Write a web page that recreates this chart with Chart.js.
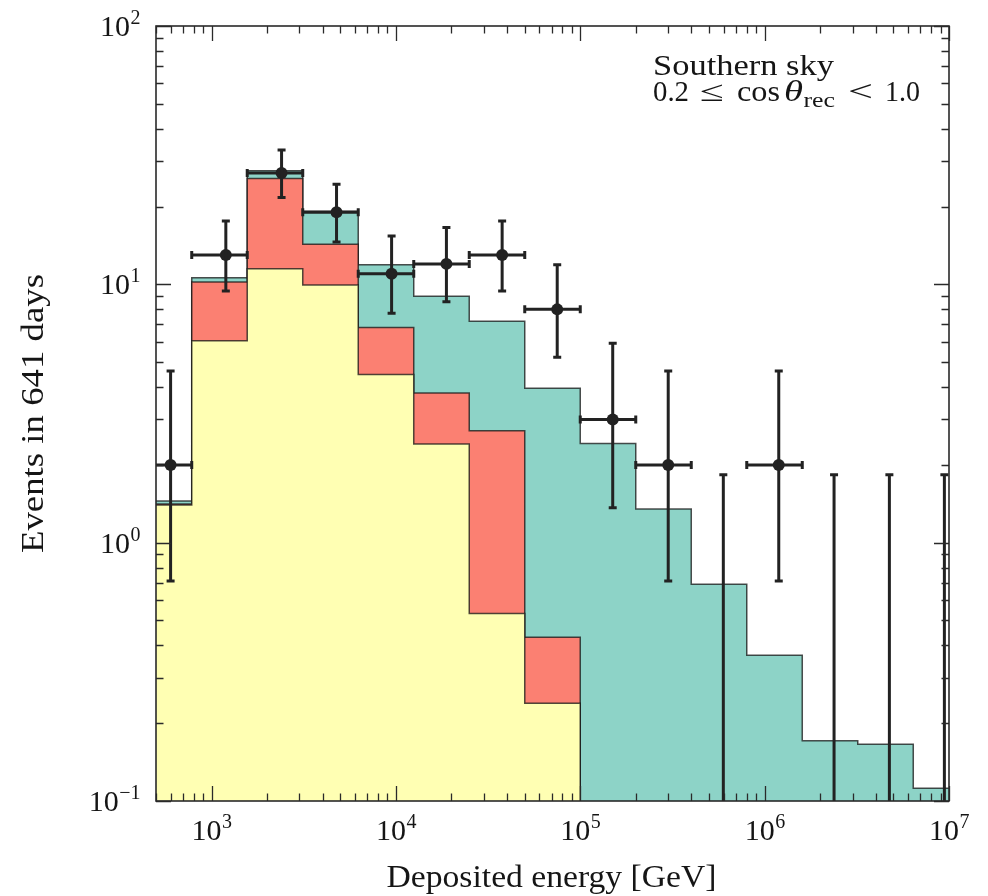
<!DOCTYPE html>
<html>
<head>
<meta charset="utf-8">
<script src="https://cdn.jsdelivr.net/npm/chart.js@4.4.1/dist/chart.umd.min.js"></script>
<style>
  html, body { margin: 0; padding: 0; background: #fff; }
  #wrap { width: 988px; height: 896px; }
</style>
</head>
<body>
<div id="wrap"><canvas id="grafico" width="988" height="896"></canvas></div>
<script>
// Energy bins in GeV (each bin is a factor 2 wide)
const binEdges = [390.625, 781.25, 1562.5, 3125, 6250, 12500, 25000, 50000,
  100000, 200000, 400000, 800000, 1600000, 3200000, 6400000, 12800000];

// Stacked histogram: top of each layer per bin
const yellowTop = [1.40, 6.05, 11.5, 9.94, 4.48, 2.41, 0.532, 0.239];
const redTop = [1.41, 10.2, 25.7, 14.3, 6.80, 3.80, 2.71, 0.43];
const tealTop = [1.45, 10.6, 27.5, 19.2, 11.9, 9.0, 7.19, 3.96, 2.42, 1.35,
  0.69, 0.367, 0.171, 0.166, 0.112];

// Observed events with their error ranges
const eventEnergy = [600, 1196, 2399, 4766, 9480, 18800, 37700, 75000, 150000, 300000, 1193000];
const eventCount = [2, 13, 27, 19, 11, 12, 13, 8, 3, 2, 2];
const eventLow = [0.71, 9.42, 21.7, 14.6, 7.72, 8.56, 9.42, 5.22, 1.365, 0.71, 0.71];
const eventHigh = [4.62, 17.6, 33.1, 24.4, 15.4, 16.6, 17.6, 11.9, 5.91, 4.62, 4.62];
const eventBin = [0, 1, 2, 3, 4, 5, 6, 7, 8, 9, 11];

// Empty bins: upper limits only
const limitEnergy = [597000, 2380000, 4750000, 9440000];
const limitValue = [1.83, 1.83, 1.83, 1.83];

// Axis ranges and decade labels
const xMin = 500, xMax = 1e7;
const yMin = 0.1, yMax = 100;
const xTickValues = [1e3, 1e4, 1e5, 1e6, 1e7];
const xTickExp = ["3", "4", "5", "6", "7"];
const yTickValues = [0.1, 1, 10, 100];
const yTickExp = ["\u22121", "0", "1", "2"];

const SERIF = '"Liberation Serif", "DejaVu Serif", serif';
const INK = "#151515";
const BAR = "#222";

function escalones(tops) {
  const pts = tops.map((v, i) => ({ x: binEdges[i], y: v }));
  const n = tops.length;
  pts.push({ x: binEdges[n], y: tops[n - 1] });
  pts.push({ x: binEdges[n], y: yMin });
  return pts;
}

function capa(tops, color) {
  return {
    data: escalones(tops),
    stepped: "before",
    fill: "start",
    backgroundColor: color,
    borderColor: "rgba(20,20,20,0.75)",
    borderWidth: 1.5,
    pointRadius: 0,
    clip: 0
  };
}

function potencia(ctx, exp, x, y, align) {
  ctx.font = "30px " + SERIF;
  const w1 = ctx.measureText("10").width;
  ctx.font = "20px " + SERIF;
  const w2 = ctx.measureText(exp).width;
  let x0 = x - (w1 + w2) / 2;
  if (align === "right") x0 = x - w1 - w2;
  ctx.textAlign = "left";
  ctx.textBaseline = "alphabetic";
  ctx.font = "30px " + SERIF;
  ctx.fillText("10", x0, y);
  ctx.font = "20px " + SERIF;
  ctx.fillText(exp, x0 + w1 + 0.5, y - 12);
}

// text stretched along its baseline to a given width (the serif face is narrower than the original one)
function estirado(ctx, txt, x, y, ancho, align, giro) {
  const w = ctx.measureText(txt).width;
  ctx.save();
  ctx.translate(x, y);
  if (giro) ctx.rotate(giro);
  ctx.scale(ancho / w, 1);
  ctx.textAlign = align;
  ctx.textBaseline = "alphabetic";
  ctx.fillText(txt, 0, 0);
  ctx.restore();
}

const barrasError = {
  id: "barrasError",
  afterDatasetsDraw(chart) {
    const { ctx, chartArea: a, scales: { x, y } } = chart;
    ctx.save();
    ctx.beginPath();
    ctx.rect(a.left, a.top, a.right - a.left, a.bottom - a.top);
    ctx.clip();
    ctx.strokeStyle = BAR;
    ctx.lineWidth = 3;
    ctx.lineCap = "butt";
    const cap = 4;

    eventEnergy.forEach((e, i) => {
      const px = x.getPixelForValue(e);
      const py = y.getPixelForValue(eventCount[i]);
      const lo = y.getPixelForValue(eventLow[i]);
      const hi = y.getPixelForValue(eventHigh[i]);
      const xl = x.getPixelForValue(binEdges[eventBin[i]]);
      const xr = x.getPixelForValue(binEdges[eventBin[i] + 1]);
      ctx.beginPath();
      ctx.moveTo(px, lo); ctx.lineTo(px, hi);
      ctx.moveTo(px - cap, lo); ctx.lineTo(px + cap, lo);
      ctx.moveTo(px - cap, hi); ctx.lineTo(px + cap, hi);
      ctx.moveTo(xl, py); ctx.lineTo(xr, py);
      ctx.moveTo(xl, py - cap); ctx.lineTo(xl, py + cap);
      ctx.moveTo(xr, py - cap); ctx.lineTo(xr, py + cap);
      ctx.stroke();
    });

    limitEnergy.forEach((e, i) => {
      const px = x.getPixelForValue(e);
      const hi = y.getPixelForValue(limitValue[i]);
      ctx.beginPath();
      ctx.moveTo(px, hi); ctx.lineTo(px, a.bottom + 5);
      ctx.moveTo(px - cap, hi); ctx.lineTo(px + cap, hi);
      ctx.stroke();
    });
    ctx.restore();
  }
};

// Frame with inward ticks on all four sides, plus labels and text
const marco = {
  id: "marco",
  afterDraw(chart) {
    const { ctx, chartArea: a, scales: { x, y } } = chart;
    ctx.save();
    ctx.strokeStyle = "#2a2a2a";
    ctx.lineWidth = 1.3;

    const mayor = 15, menor = 7.5;
    for (let d = -2; d <= 7; d++) {
      for (let m = 1; m <= 9; m++) {
        const v = m * Math.pow(10, d);
        const len = m === 1 ? mayor : menor;
        if (v >= xMin && v <= xMax) {
          const px = Math.round(x.getPixelForValue(v)) + 0.5;
          ctx.beginPath();
          ctx.moveTo(px, a.bottom); ctx.lineTo(px, a.bottom - len);
          ctx.moveTo(px, a.top); ctx.lineTo(px, a.top + len);
          ctx.stroke();
        }
        if (v >= yMin && v <= yMax) {
          const py = Math.round(y.getPixelForValue(v)) + 0.5;
          ctx.beginPath();
          ctx.moveTo(a.left, py); ctx.lineTo(a.left + len, py);
          ctx.moveTo(a.right, py); ctx.lineTo(a.right - len, py);
          ctx.stroke();
        }
      }
    }

    ctx.lineWidth = 1.6;
    ctx.strokeRect(a.left, a.top, a.right - a.left, a.bottom - a.top);

    ctx.fillStyle = INK;
    xTickValues.forEach((v, i) => {
      potencia(ctx, xTickExp[i], x.getPixelForValue(v), a.bottom + 39, "center");
    });
    yTickValues.forEach((v, i) => {
      potencia(ctx, yTickExp[i], a.left - 16, y.getPixelForValue(v) + 10, "right");
    });

    // axis titles
    ctx.font = "31px " + SERIF;
    estirado(ctx, "Deposited energy [GeV]", (a.left + a.right) / 2 - 1, 887, 330, "center");
    estirado(ctx, "Events in 641 days", 43, (a.top + a.bottom) / 2, 279, "center", -Math.PI / 2);

    // region label
    const normal = "29px " + SERIF;
    ctx.font = normal;
    estirado(ctx, "Southern sky", 653, 74.5, 181, "left");
    const base = 101;
    const trozos = [
      ["0.2", normal, 653, 0, 36],
      ["\u2264", normal, 700, 0, 24],
      ["cos", normal, 737, 0, 43],
      ["\u03b8", "italic " + normal, 784, 0, 19],
      ["rec", "21px " + SERIF, 803.5, 5.5, 31.5],
      ["<", normal, 848, 0, 25],
      ["1.0", normal, 885, 0, 35]
    ];
    trozos.forEach(([txt, font, tx, dy, w]) => {
      ctx.font = font;
      estirado(ctx, txt, tx, base + dy, w, "left");
    });
    ctx.restore();
  }
};

const ctx = document.getElementById("grafico").getContext("2d");
new Chart(ctx, {
  type: "line",
  data: {
    datasets: [
      {
        data: eventEnergy.map((e, i) => ({ x: e, y: eventCount[i] })),
        showLine: false,
        pointRadius: 6,
        pointBackgroundColor: BAR,
        pointBorderColor: BAR,
        pointBorderWidth: 0,
        clip: 0
      },
      capa(yellowTop, "#ffffb3"),
      capa(redTop, "#fb8072"),
      capa(tealTop, "#8dd3c7")
    ]
  },
  options: {
    responsive: false,
    animation: false,
    devicePixelRatio: 1,
    layout: { padding: { left: 156, right: 39, top: 26, bottom: 95 } },
    plugins: { legend: { display: false }, tooltip: { enabled: false } },
    scales: {
      x: { type: "logarithmic", min: xMin, max: xMax, display: false },
      y: { type: "logarithmic", min: yMin, max: yMax, display: false }
    }
  },
  plugins: [barrasError, marco]
});
</script>
</body>
</html>
